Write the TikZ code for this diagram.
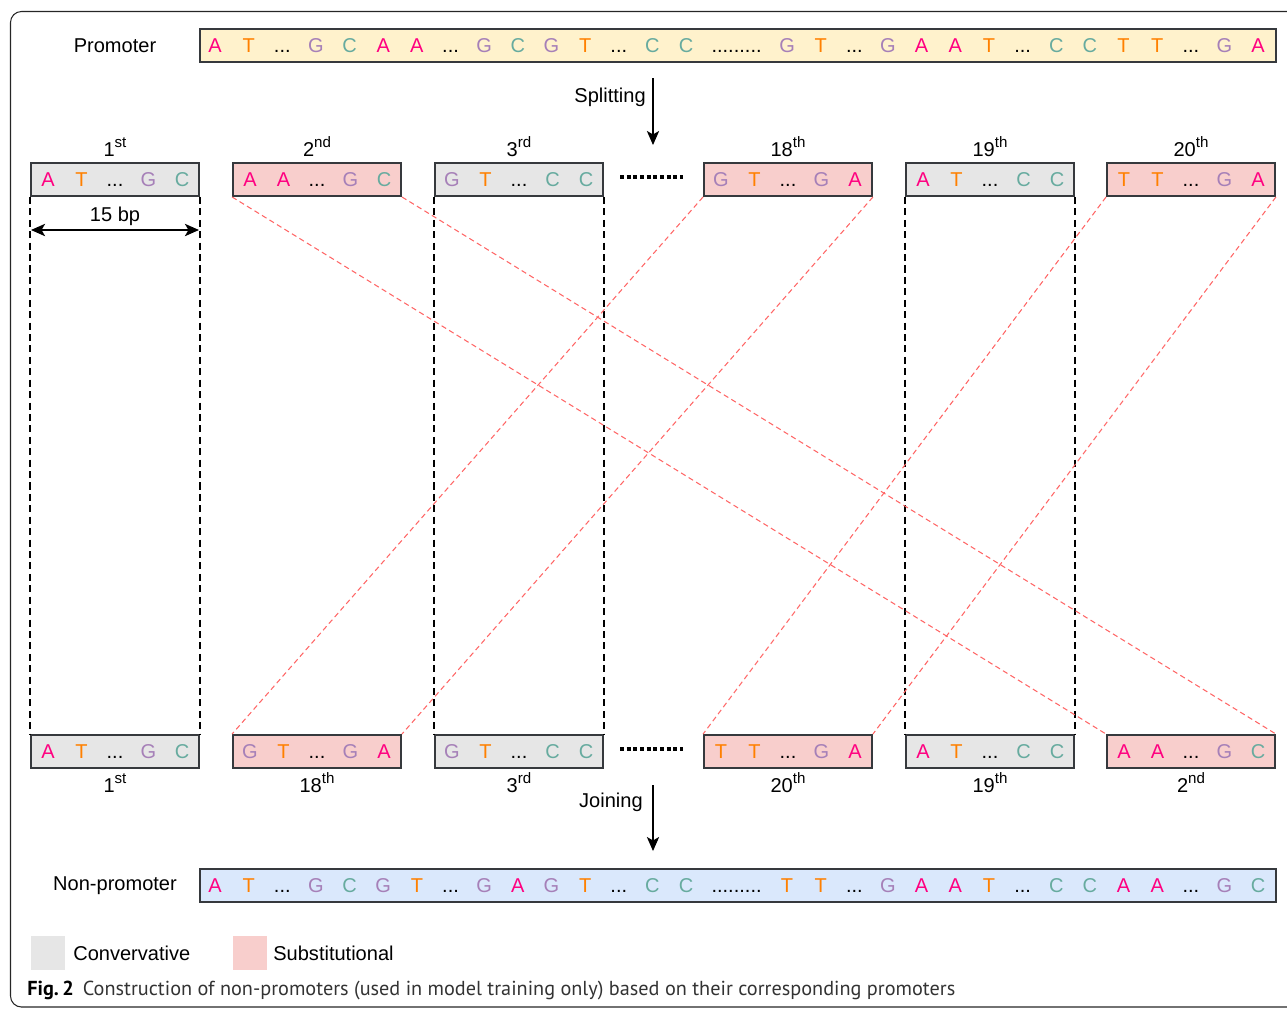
\documentclass[tikz,border=0pt]{standalone}
\usepackage{fontspec}
\setmainfont{Liberation Sans}
\newfontfamily\capfont{PT Sans}
\usetikzlibrary{arrows.meta,calc}
\definecolor{colA}{HTML}{FF0080}
\definecolor{colT}{HTML}{FF8000}
\definecolor{colG}{HTML}{A680B8}
\definecolor{colC}{HTML}{67AB9F}
\definecolor{consfill}{HTML}{E6E6E6}
\definecolor{subsfill}{HTML}{F8CECC}
\definecolor{promfill}{HTML}{FFF2CC}
\definecolor{nonfill}{HTML}{DAE8FC}
\definecolor{boxline}{HTML}{36393D}
\definecolor{redline}{HTML}{FF6666}
\definecolor{captext}{HTML}{333333}
\newcommand\nuc[1]{\ifx D#1\textcolor{black}{...}\else\ifx E#1\textcolor{black}{.........}\else\textcolor{col#1}{#1}\fi\fi}
\newcommand\ordsup[1]{\raisebox{0.42em}{\fontsize{8.6}{10}\selectfont #1}}
\newcommand\barseq[3]{%
  \foreach \l [count=\i from 0] in {#3}{
    \pgfmathsetmacro\pos{\i<15 ? \i : (\i==15 ? 15.5 : \i+1)}
    \node[nt] (#1-\i) at ({215+33.65*\pos},#2) {\expandafter\nuc\expandafter{\l}};
  }}
\newcommand\boxseq[2]{%
  \foreach \l [count=\i from 0] in {#2}{
    \node[nt] (#1-\i) at ($(#1.center)+({-67+33.5*\i},7.2)$) {\expandafter\nuc\expandafter{\l}};
  }}
\begin{document}
\begin{tikzpicture}[x=0.02cm,y=-0.02cm,
  every node/.style={font=\fontsize{11.4}{13.7}\selectfont},
  nt/.style={anchor=base,inner sep=0pt},
  seqbox/.style={draw=boxline,line width=1.1pt,minimum width=3.36cm,minimum height=0.66cm,inner sep=0pt},
  barbox/.style={draw=boxline,line width=1.1pt,minimum width=21.52cm,minimum height=0.66cm,inner sep=0pt},
  lbl/.style={anchor=base,inner sep=0pt},
  blkd/.style={draw=black,line width=0.75pt,dash pattern=on 4pt off 2.5pt},
  redd/.style={draw=redline,line width=0.6pt,dash pattern=on 3pt off 2pt},
  bigdots/.style={draw=black,line width=2pt,dash pattern=on 2.2pt off 1.6pt},
  flowarrow/.style={draw=black,line width=0.7pt,-{Stealth[length=8pt,width=7pt,inset=2pt]}},
]
\useasboundingbox (0,0) rectangle (1287,1008);
\clip (0,0) rectangle (1287,1008);
% frame
\draw[draw=black!85,line width=0.6pt,rounded corners=0.22cm] (10.5,11.5) rectangle (1320,1007);

% promoter bar
\node[anchor=center] (promlbl) at (115,46) {Promoter};
\node[barbox,fill=promfill] (prom) at (738,45.5) {};
\barseq{prom}{52.7}{A,T,D,G,C,A,A,D,G,C,G,T,D,C,C,E,G,T,D,G,A,A,T,D,C,C,T,T,D,G,A}

% splitting arrow
\coordinate (s1) at (653,78);
\coordinate (s2) at (653,145);
\draw[flowarrow] (s1) -- (s2);
\node[anchor=east,inner sep=0pt] (split) at (646,97) {Splitting};

% top boxes
\node[seqbox,fill=consfill] (t1) at (115,179.5) {};
\node[seqbox,fill=subsfill] (t2) at (317,179.5) {};
\node[seqbox,fill=consfill] (t3) at (519,179.5) {};
\node[seqbox,fill=subsfill] (t18) at (788,179.5) {};
\node[seqbox,fill=consfill] (t19) at (990,179.5) {};
\node[seqbox,fill=subsfill] (t20) at (1191,179.5) {};
\boxseq{t1}{A,T,D,G,C}
\boxseq{t2}{A,A,D,G,C}
\boxseq{t3}{G,T,D,C,C}
\boxseq{t18}{G,T,D,G,A}
\boxseq{t19}{A,T,D,C,C}
\boxseq{t20}{T,T,D,G,A}
\node[lbl] (lt1) at (115,156) {1\ordsup{st}};
\node[lbl] (lt2) at (317,156) {2\ordsup{nd}};
\node[lbl] (lt3) at (519,156) {3\ordsup{rd}};
\node[lbl] (lt18) at (788,156) {18\ordsup{th}};
\node[lbl] (lt19) at (990,156) {19\ordsup{th}};
\node[lbl] (lt20) at (1191,156) {20\ordsup{th}};
\coordinate (dtl) at (620,177);
\coordinate (dtr) at (683,177);
\draw[bigdots] (dtl) -- (dtr);

% bottom boxes
\node[seqbox,fill=consfill] (b1) at (115,751.5) {};
\node[seqbox,fill=subsfill] (b18) at (317,751.5) {};
\node[seqbox,fill=consfill] (b3) at (519,751.5) {};
\node[seqbox,fill=subsfill] (b20) at (788,751.5) {};
\node[seqbox,fill=consfill] (b19) at (990,751.5) {};
\node[seqbox,fill=subsfill] (b2) at (1191,751.5) {};
\boxseq{b1}{A,T,D,G,C}
\boxseq{b18}{G,T,D,G,A}
\boxseq{b3}{G,T,D,C,C}
\boxseq{b20}{T,T,D,G,A}
\boxseq{b19}{A,T,D,C,C}
\boxseq{b2}{A,A,D,G,C}
\node[lbl] (lb1) at (115,792) {1\ordsup{st}};
\node[lbl] (lb18) at (317,792) {18\ordsup{th}};
\node[lbl] (lb3) at (519,792) {3\ordsup{rd}};
\node[lbl] (lb20) at (788,792) {20\ordsup{th}};
\node[lbl] (lb19) at (990,792) {19\ordsup{th}};
\node[lbl] (lb2) at (1191,792) {2\ordsup{nd}};
\coordinate (dbl) at (620,749);
\coordinate (dbr) at (683,749);
\draw[bigdots] (dbl) -- (dbr);

% vertical dashed guides (conservative)
\foreach \n in {1,3,19}{
  \draw[blkd] (t\n.south west) -- (b\n.north west);
  \draw[blkd] (t\n.south east) -- (b\n.north east);
}
% substitution lines
\foreach \n in {2,18,20}{
  \draw[redd] (t\n.south west) -- (b\n.north west);
  \draw[redd] (t\n.south east) -- (b\n.north east);
}

% 15 bp
\coordinate (bpl) at (31,230);
\coordinate (bpr) at (199,230);
\draw[line width=1.1pt,{Stealth[length=8pt,width=7pt,inset=2pt]}-{Stealth[length=8pt,width=7pt,inset=2pt]}] (bpl) -- (bpr);
\node[lbl] (bp) at (115,221) {15 bp};

% joining arrow
\coordinate (j1) at (653,785);
\coordinate (j2) at (653,851);
\draw[flowarrow] (j1) -- (j2);
\node[anchor=east,inner sep=0pt] (join) at (643,802) {Joining};

% non-promoter bar
\node[anchor=center] (nonlbl) at (115,886) {Non-promoter};
\node[barbox,fill=nonfill] (non) at (738,885.5) {};
\barseq{non}{892.7}{A,T,D,G,C,G,T,D,G,A,G,T,D,C,C,E,T,T,D,G,A,A,T,D,C,C,A,A,D,G,C}

% legend
\fill[consfill] (31,936) rectangle (65,970);
\node[anchor=base west,inner sep=0pt] (leg1) at (73,960) {Convervative};
\fill[subsfill] (233,936) rectangle (267,970);
\node[anchor=base west,inner sep=0pt] (leg2) at (273,960) {Substitutional};

% caption
\node[anchor=base west,inner sep=0pt] (cap) at (27,995) {\resizebox{18.56cm}{!}{\capfont\textbf{Fig.\,2}\hspace{0.45em}\textcolor{captext}{Construction of non-promoters (used in model training only) based on their corresponding promoters}}};
\end{tikzpicture}
\end{document}
